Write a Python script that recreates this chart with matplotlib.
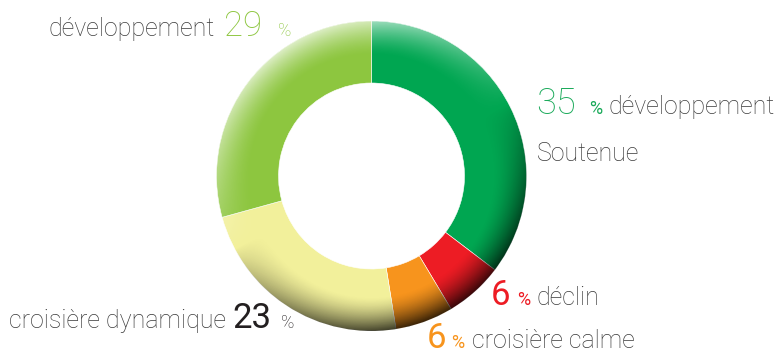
import matplotlib
matplotlib.use("Agg")
import matplotlib.pyplot as plt
import numpy as np
from matplotlib.patches import Circle

plt.rcParams["font.family"] = ["Roboto", "DejaVu Sans"]
plt.rcParams["font.weight"] = "light"

# shares, clockwise from 12 o'clock
labels = ["développement\nSoutenue", "déclin", "croisière calme",
          "croisière dynamique", "développement"]
shares = [35, 6, 6, 23, 29]
colors = ["#00a651", "#ed1c24", "#f7941d", "#f2f09b", "#8dc63f"]
num_colors = ["#1aaa5a", "#ed1c24", "#f7941d", "#231f20", "#8dc63f"]
WORD = "#3a3a3a"

W, H = 783, 355
cx, cy = 371.5, H - 176
R, ring = 155, 62

fig = plt.figure(figsize=(W / 100, H / 100), dpi=100)
ax = fig.add_axes([0, 0, 1, 1])

ax.pie(shares, colors=colors, startangle=90, counterclock=False,
       radius=R, center=(cx, cy), frame=True,
       wedgeprops=dict(width=ring, edgecolor="white", linewidth=0.4))

# bevel shading on the outer rim: light from top-left, dark toward the bottom
n = 500
xs = np.linspace(cx - R, cx + R, n)
ys = np.linspace(cy - R, cy + R, n)
gx, gy = np.meshgrid(xs, ys)
dx, dy = gx - cx, gy - cy
r = np.hypot(dx, dy) / R
ang = np.arctan2(dy, dx)
t = np.clip((r - 0.78) / 0.22, 0, 1) ** 1.5
d = np.cos(ang - np.deg2rad(-62))
dark = np.clip(d, 0, 1) ** 0.8 * t * 0.78
light = np.clip(-d, 0, 1) * t * 0.7
shade = np.zeros((n, n, 4))
shade[..., :3] = np.where(dark[..., None] > 0, 0.0, 1.0)
shade[..., 3] = np.clip(dark + light, 0, 1)
im = ax.imshow(shade, extent=(cx - R, cx + R, cy - R, cy + R), origin="lower",
               interpolation="bilinear", zorder=3)
im.set_clip_path(Circle((cx, cy), R, transform=ax.transData))

ax.set_xlim(0, W)
ax.set_ylim(0, H)
ax.set_aspect("equal")
ax.axis("off")


def put(x, y, s, size, color, weight="light"):
    ax.text(x, H - y, s, fontsize=size, color=color, ha="left", va="baseline",
            fontweight=weight)


# top left: développement 29 %
put(49, 36, labels[4], 18, WORD)
put(224, 36, str(shares[4]), 25, num_colors[4])
put(278, 36, "%", 13, num_colors[4])

# right: 35 % développement Soutenue
first, second = labels[0].split("\n")
put(536, 114, str(shares[0]), 26, num_colors[0])
put(589, 114, "%", 13, num_colors[0], "normal")
put(608, 114, first, 18, WORD)
put(537, 161, second, 18, WORD)

# 6 % déclin
put(491, 305, str(shares[1]), 25, num_colors[1], "normal")
put(517, 305, "%", 13, num_colors[1], "normal")
put(537, 305, labels[1], 18, WORD)

# 6 % croisière calme
put(427, 348, str(shares[2]), 25, num_colors[2], "normal")
put(451, 348, "%", 13, num_colors[2], "normal")
put(472, 348, labels[2], 18, WORD)

# croisière dynamique 23 %
put(9, 328, labels[3], 18, WORD)
put(232, 328, str(shares[3]), 25, num_colors[3], "normal")
put(281, 328, "%", 13, num_colors[3])

fig.savefig("out.png", dpi=100)
